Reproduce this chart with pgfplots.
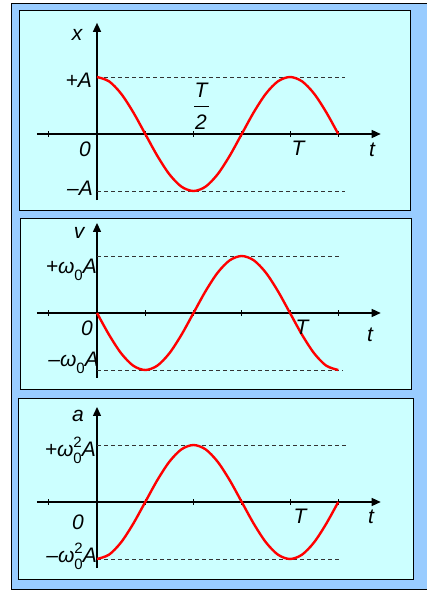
\documentclass[border=0pt]{standalone}
\usepackage{pgfplots}
\pgfplotsset{compat=1.18}
\usepackage{fontspec}
\setmainfont{Liberation Sans}
\usetikzlibrary{arrows.meta}

\definecolor{frameblue}{HTML}{99CCFF}
\definecolor{panelcyan}{HTML}{CCFFFF}
\newcommand\lab{\fontsize{21}{25}\selectfont\itshape}
\newcommand\lo[1]{\raisebox{-0.32em}{\fontsize{15}{15}\selectfont\upshape #1}}
\newcommand\hi[1]{\raisebox{0.45em}{\fontsize{15}{15}\selectfont\upshape #1}}

\pgfplotsset{
  osc/.style={
    anchor=origin, x=193pt, y=57pt,
    axis lines=middle, clip=false,
    xmin=-0.311, xmax=1.47,
    xtick={-0.25,0.25,0.5,0.75,1,1.25}, xticklabel=\empty,
    ytick=\empty,
    major tick length=6pt,
    tick style={black, line width=0.8pt},
    axis line style={black, line width=1.3pt},
    every inner x axis line/.append style={-{Triangle[length=9pt,width=8pt]}},
    every inner y axis line/.append style={-{Triangle[length=9pt,width=8pt]}},
  },
  wave/.style={red, line width=2.4pt, smooth},
  lvl/.style={black!80, line width=0.9pt, dash pattern=on 4pt off 3pt},
}

\begin{document}
\begin{tikzpicture}
\useasboundingbox (0,0) rectangle (426pt,594pt);
\begin{scope}[x=1pt, y=-1pt, yshift=594pt]
  \fill[white] (0,0) rectangle (426,594);
  \filldraw[fill=frameblue, draw=black, line width=0.8pt] (11,3) rectangle (427,589);
  \filldraw[fill=panelcyan, draw=black, line width=0.8pt] (19,10) rectangle (410,210);
  \filldraw[fill=panelcyan, draw=black, line width=0.8pt] (20,218) rectangle (411,389);
  \filldraw[fill=panelcyan, draw=black, line width=0.8pt] (18,398) rectangle (413,579);
\end{scope}

% x(t)
\begin{axis}[osc, at={(97pt,460pt)}, ymin=-1.16, ymax=1.95]
  \addplot[lvl] coordinates {(0,1) (1.285,1)};
  \addplot[lvl] coordinates {(0,-1) (1.285,-1)};
  \addplot[wave] coordinates {
    (0,1) (0.0625,0.9239) (0.125,0.7071) (0.1875,0.3827) (0.25,0)
    (0.3125,-0.3827) (0.375,-0.7071) (0.4375,-0.9239) (0.5,-1)
    (0.5625,-0.9239) (0.625,-0.7071) (0.6875,-0.3827) (0.75,0)
    (0.8125,0.3827) (0.875,0.7071) (0.9375,0.9239) (1,1)
    (1.0625,0.9239) (1.125,0.7071) (1.1875,0.3827) (1.25,0)};
\end{axis}

% v(t)
\begin{axis}[osc, at={(97pt,281pt)}, ymin=-1.14, ymax=1.58]
  \addplot[lvl] coordinates {(0,1) (1.264,1)};
  \addplot[lvl] coordinates {(0,-1) (1.27,-1)};
  \addplot[wave] coordinates {
    (0,0) (0.0625,-0.3827) (0.125,-0.7071) (0.1875,-0.9239) (0.25,-1)
    (0.3125,-0.9239) (0.375,-0.7071) (0.4375,-0.3827) (0.5,0)
    (0.5625,0.3827) (0.625,0.7071) (0.6875,0.9239) (0.75,1)
    (0.8125,0.9239) (0.875,0.7071) (0.9375,0.3827) (1,0)
    (1.0625,-0.3827) (1.125,-0.7071) (1.1875,-0.9239) (1.25,-1)};
\end{axis}

% a(t)
\begin{axis}[osc, at={(97pt,92pt)}, ymin=-1.16, ymax=1.667]
  \addplot[lvl] coordinates {(0,1) (1.29,1)};
  \addplot[lvl] coordinates {(0,-1) (1.264,-1)};
  \addplot[wave] coordinates {
    (0,-1) (0.0625,-0.9239) (0.125,-0.7071) (0.1875,-0.3827) (0.25,0)
    (0.3125,0.3827) (0.375,0.7071) (0.4375,0.9239) (0.5,1)
    (0.5625,0.9239) (0.625,0.7071) (0.6875,0.3827) (0.75,0)
    (0.8125,-0.3827) (0.875,-0.7071) (0.9375,-0.9239) (1,-1)
    (1.0625,-0.9239) (1.125,-0.7071) (1.1875,-0.3827) (1.25,0)};
\end{axis}

\begin{scope}[x=1pt, y=-1pt, yshift=594pt, every node/.style={inner sep=0pt, font=\lab}]
  % panel 1
  \node[anchor=base] at (77,41) {x};
  \node[anchor=base east] at (92,88) {+A};
  \node[anchor=base] at (85,157) {0};
  \node[anchor=base east] at (93,196) {\textendash A};
  \node[anchor=base] at (201,98) {T};
  \draw[black, line width=1pt] (194,107) -- (209,107);
  \node[anchor=base] at (201,130) {2};
  \node[anchor=base] at (298,156) {T};
  \node[anchor=base] at (372,157) {t};
  % panel 2
  \node[anchor=base] at (79,239) {v};
  \node[anchor=base east] at (97,274) {+ω\lo{0}A};
  \node[anchor=base] at (87,336) {0};
  \node[anchor=base east] at (99,367) {\textendash ω\lo{0}A};
  \node[anchor=base] at (302,335) {T};
  \node[anchor=base] at (370,342) {t};
  % panel 3
  \node[anchor=base] at (78,422) {a};
  \node[anchor=base east] at (96,457) {+ω\rlap{\hi{2}}\lo{0}A};
  \node[anchor=base] at (78,530) {0};
  \node[anchor=base east] at (97,563) {\textendash ω\rlap{\hi{2}}\lo{0}A};
  \node[anchor=base] at (300,524) {T};
  \node[anchor=base] at (371,524) {t};
\end{scope}
\end{tikzpicture}
\end{document}
